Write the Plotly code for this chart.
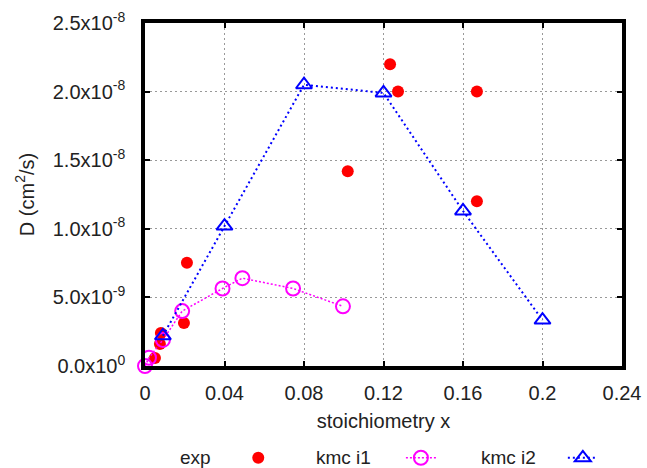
import plotly.graph_objects as go

# ---- data ----
exp_x = [0.0050, 0.0075, 0.0080, 0.0196, 0.0211, 0.102, 0.1233, 0.1273, 0.167, 0.167]
exp_y = [0.058e-8, 0.16e-8, 0.24e-8, 0.314e-8, 0.752e-8, 1.42e-8, 2.20e-8, 2.00e-8, 2.00e-8, 1.20e-8]

i1_x = [0.0, 0.002, 0.009, 0.0187, 0.039, 0.049, 0.0745, 0.0996]
i1_y = [0.0, 0.06e-8, 0.19e-8, 0.40e-8, 0.565e-8, 0.64e-8, 0.565e-8, 0.435e-8]

i2_x = [0.009, 0.04, 0.08, 0.12, 0.16, 0.2]
i2_y = [0.22e-8, 1.02e-8, 2.05e-8, 1.99e-8, 1.13e-8, 0.335e-8]

x_ticks = [0, 0.04, 0.08, 0.12, 0.16, 0.2, 0.24]
x_ticktext = ["0", "0.04", "0.08", "0.12", "0.16", "0.2", "0.24"]
y_ticks = [0, 0.5e-8, 1.0e-8, 1.5e-8, 2.0e-8, 2.5e-8]
y_ticktext = ["0.0x10<sup>0</sup>", "5.0x10<sup>-9</sup>", "1.0x10<sup>-8</sup>",
              "1.5x10<sup>-8</sup>", "2.0x10<sup>-8</sup>", "2.5x10<sup>-8</sup>"]

FONT = "Liberation Sans, Arial, sans-serif"
TXT = "#222222"
FS = 20
LFS = 19

fig = go.Figure()
fig.add_trace(go.Scatter(x=exp_x, y=exp_y, mode="markers", name="",
                         marker=dict(color="#ff0000", size=12, symbol="circle"),
                         legend="legend", cliponaxis=False))
fig.add_trace(go.Scatter(x=i1_x, y=i1_y, mode="lines+markers", name="",
                         line=dict(color="#ff00ff", width=1.5, dash="2px,2px"),
                         marker=dict(color="#ff00ff", size=14, symbol="circle-open",
                                     line=dict(color="#ff00ff", width=2)),
                         legend="legend2", cliponaxis=False))
fig.add_trace(go.Scatter(x=i2_x, y=i2_y, mode="lines+markers", name="",
                         line=dict(color="#0000ff", width=2, dash="2px,3px"),
                         marker=dict(color="#0000ff", size=14, symbol="triangle-up-open",
                                     line=dict(color="#0000ff", width=2)),
                         legend="legend3", cliponaxis=False))

LEG_Y = -0.268
leg_common = dict(orientation="h", yanchor="middle", xanchor="left", y=LEG_Y,
                  bgcolor="rgba(0,0,0,0)", borderwidth=0, font=dict(family=FONT, size=LFS))
fig.update_layout(
    legend=dict(x=0.1955, **leg_common),
    legend2=dict(x=0.5365, **leg_common),
    legend3=dict(x=0.876, **leg_common),
)

for txt, xp in [("exp", 0.1426), ("kmc i1", 0.478), ("kmc i2", 0.824)]:
    fig.add_annotation(text=txt, x=xp, y=LEG_Y, xref="paper", yref="paper",
                       xanchor="right", yanchor="middle", showarrow=False,
                       font=dict(family=FONT, size=LFS, color=TXT))

axis_common = dict(showline=True, linewidth=3.5, linecolor="black", mirror="allticks",
                   ticks="inside", ticklen=5, tickwidth=2, tickcolor="black",
                   showgrid=True, gridcolor="#999999", griddash="2px,3px", gridwidth=1,
                   zeroline=False, tickfont=dict(family=FONT, size=FS, color=TXT))

fig.update_xaxes(range=[0, 0.24], tickvals=x_ticks, ticktext=x_ticktext,
                 ticklabelstandoff=6,
                 title=dict(text="stoichiometry x", font=dict(family=FONT, size=FS, color=TXT),
                            standoff=12), **axis_common)
fig.update_yaxes(range=[0, 2.5e-8], tickvals=y_ticks, ticktext=y_ticktext,
                 ticklabelstandoff=12,
                 title=dict(text="D (cm<sup>2</sup>/s)", font=dict(family=FONT, size=FS, color=TXT),
                            standoff=14), **axis_common)

fig.update_layout(width=647, height=468,
                  margin=dict(l=145, r=25, t=23, b=102, autoexpand=False),
                  plot_bgcolor="white", paper_bgcolor="white", showlegend=True)

fig.write_html("out.html", config={"displayModeBar": False},
               post_script="document.body.style.margin='0';document.body.style.overflow='hidden';")
